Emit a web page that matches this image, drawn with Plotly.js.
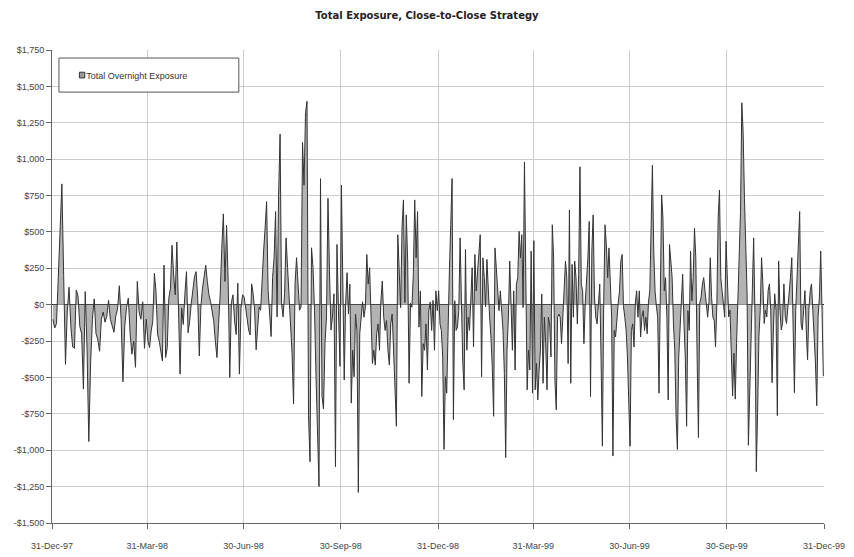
<!DOCTYPE html>
<html><head><meta charset="utf-8">
<script src="https://cdn.plot.ly/plotly-3.0.1.min.js"></script>
<style>html,body{margin:0;padding:0;background:#fff;} #chart{width:854px;height:557px;}</style>
</head><body><div id="chart"></div>
<script>
const quarterEnds = ['1997-12-31','1998-03-31','1998-06-30','1998-09-30','1998-12-31','1999-03-31','1999-06-30','1999-09-30','1999-12-31'];
const xTickLabels = ['31-Dec-97','31-Mar-98','30-Jun-98','30-Sep-98','31-Dec-98','31-Mar-99','30-Jun-99','30-Sep-99','31-Dec-99'];
const yTickValues = [-1500,-1250,-1000,-750,-500,-250,0,250,500,750,1000,1250,1500,1750];
const yTickLabels = ['-$1,500','-$1,250','-$1,000','-$750','-$500','-$250','$0','$250','$500','$750','$1,000','$1,250','$1,500','$1,750'];
const seriesName = 'Total Overnight Exposure';

// Total overnight exposure
const q1_1998 = [-100,-160,-130,200,600,830,200,-410,-50,120,-150,-290,-300,100,60,-150,-200,-580,90,-300,-940,-400,-100,40,-200,-240,-320,-100,-50,-120,-80,30,-100,-150,-190,-80,-30,130,-100,-530,-150,-20,45,-200,-340,-250,-430,160,-50,-100,20,-300,-100];
const q2_1998 = [-250,-295,-180,-114,215,90,-205,-250,-318,-386,272,-363,-295,45,114,409,204,68,431,-68,-477,-23,-136,68,227,-193,-114,10,91,193,227,45,-352,-10,114,204,272,159,68,23,-45,-114,-250,-363,-136,68,386,624,159,545,159,-500,15,68,-114,-205,148,-477,-23,68];
const q3_1998 = [52,-38,-106,-174,-208,143,75,-38,-310,-129,-16,-38,188,369,527,708,97,-84,-219,188,323,640,-84,753,1172,7,-84,75,459,256,75,-84,-333,-683,143,323,97,-38,-16,1115,821,1319,1398,-762,-1079,391,256,-38,-491,-921,-1249,866,-627,-717,-265,-84,731,233,-174,-84,75,-1113,414,-38,-423];
const q4_1998 = [822,-86,-518,12,220,-64,141,-676,-313,-495,-64,-177,-1290,-200,-86,20,-86,-15,345,141,254,-86,-404,-313,-415,-200,-132,-313,25,163,-86,-177,-109,-313,-415,-132,-64,-313,-654,-835,481,209,-20,527,720,15,617,300,-540,10,-18,209,720,322,640,-154,95,-631,-268,-313,-132,-449,-41,18,-177,30,-313,95,-41];
const q1_1999 = [95,-132,-177,-359,-994,-495,-608,-86,232,549,867,-790,27,-177,-154,-41,459,12,-404,-585,379,-313,-86,-177,20,254,-291,345,95,209,356,481,-495,322,186,-15,311,73,-86,-222,-427,-767,390,254,95,-41,95,-86,-177,-472,-1051,-313,-86,300,10,-313,95,-449,141,186,504,322,481,-20,981,141,-585,-313,-449,368,-608];
const q2_1999 = [440,-585,-404,-654,-449,-313,73,-540,-86,-268,-585,-86,-132,-359,549,322,-518,-722,-86,-64,-86,-268,-86,141,300,186,-404,651,-540,277,-86,300,186,-132,209,947,141,95,-268,15,141,322,572,-631,368,617,50,-86,-132,50,141,-381,-972,20,549,413,186,390,141,-86,-1040,-177,-222,-86,10,95,300,345,-12,-86,-177,-359,-676];
const q3_1999 = [-972,-177,-132,-291,12,95,-86,95,-222,-86,-41,-177,-86,-200,18,95,549,958,368,95,-10,-86,-608,15,754,595,95,186,-86,-654,413,300,186,-132,-313,-767,-994,-359,-132,20,209,-132,-359,-835,-41,-177,368,27,186,527,322,-359,-913,12,50,141,186,95,-15,-86,22,322,50,-86,-109,-291,10,595,788,186,95,-12,-86,436];
const q4_1999 = [143,-84,-38,-424,-627,-333,-649,-265,7,369,640,1387,1183,731,437,75,-966,-581,-265,7,459,-84,-1147,-740,-219,-38,323,143,-129,-38,-84,97,143,-38,-536,-174,75,-38,-762,301,-38,-174,-129,143,-84,-129,-38,97,188,323,-242,-604,-38,188,437,640,-129,-174,-38,97,-174,-378,-38,97,143,-38,-129,-400,-694,-84,52,369,-38,-491];

const quarters = [q1_1998,q2_1998,q3_1998,q4_1998,q1_1999,q2_1999,q3_1999,q4_1999];
const xs = [], ys = [];
quarters.forEach((vals, k) => {
  const a = Date.parse(quarterEnds[k] + 'T00:00:00Z');
  const b = Date.parse(quarterEnds[k+1] + 'T00:00:00Z');
  const n = vals.length;
  vals.forEach((v, i) => {
    const t = a + (i + 0.5) * (b - a) / n;
    xs.push(new Date(t).toISOString().slice(0,19).replace('T',' '));
    ys.push(v);
  });
});

const traces = [
  {x: xs, y: ys, type: 'scatter', mode: 'lines', name: seriesName, showlegend: false,
   fill: 'tozeroy', fillcolor: '#b3b3b3', line: {color: '#333333', width: 1}, hoverinfo: 'x+y'},
  {x: [null], y: [null], type: 'scatter', mode: 'markers', name: seriesName, showlegend: true,
   marker: {symbol: 'square', size: 6, color: 'rgba(0,0,0,0)', line: {width: 0}}}
];

const axisFont = {family: 'Liberation Sans, Arial, sans-serif', size: 9, color: '#444'};
const layout = {
  width: 854, height: 557,
  margin: {l: 52, r: 30, t: 50, b: 34},
  paper_bgcolor: '#fff', plot_bgcolor: '#fff',
  title: {text: '<b>Total Exposure, Close-to-Close Strategy</b>', font: {family: 'DejaVu Sans, Verdana, sans-serif', size: 10, color: '#222'},
          x: 0.5, xanchor: 'center', y: 0.973, yanchor: 'middle'},
  xaxis: {type: 'date', range: [quarterEnds[0], quarterEnds[8]], tickvals: quarterEnds, ticktext: xTickLabels,
          ticks: 'outside', ticklen: 5, tickcolor: '#666', showgrid: true, gridcolor: '#cccccc', gridwidth: 1,
          showline: true, linecolor: '#666', linewidth: 1, tickfont: axisFont, zeroline: false, ticklabelstandoff: 9},
  yaxis: {range: [-1500, 1750], tickvals: yTickValues, ticktext: yTickLabels, ticks: 'outside', ticklen: 5, tickcolor: '#666',
          showgrid: true, gridcolor: '#cccccc', gridwidth: 1, showline: true, linecolor: '#666', linewidth: 1,
          zeroline: true, zerolinecolor: '#222', zerolinewidth: 1, tickfont: axisFont},
  showlegend: true,
  legend: {x: -0.0075, y: 0.947, xanchor: 'left', yanchor: 'middle', bgcolor: 'rgba(0,0,0,0)', borderwidth: 0,
           font: {family: 'Liberation Sans, Arial, sans-serif', size: 9, color: '#333'}, itemwidth: 30},
  shapes: [
    {type: 'rect', xref: 'paper', yref: 'paper', x0: 0.009, x1: 0.242, y0: 0.911, y1: 0.983,
     fillcolor: '#ffffff', line: {color: '#555', width: 1}, layer: 'above'},
    {type: 'rect', xref: 'paper', yref: 'paper', x0: 0.0355, x1: 0.0425, y0: 0.941, y1: 0.953,
     fillcolor: '#9a9a9a', line: {color: '#333', width: 1}, layer: 'above'}
  ]
};
Plotly.newPlot('chart', traces, layout, {displayModeBar: false, staticPlot: true});
</script>
</body></html>
